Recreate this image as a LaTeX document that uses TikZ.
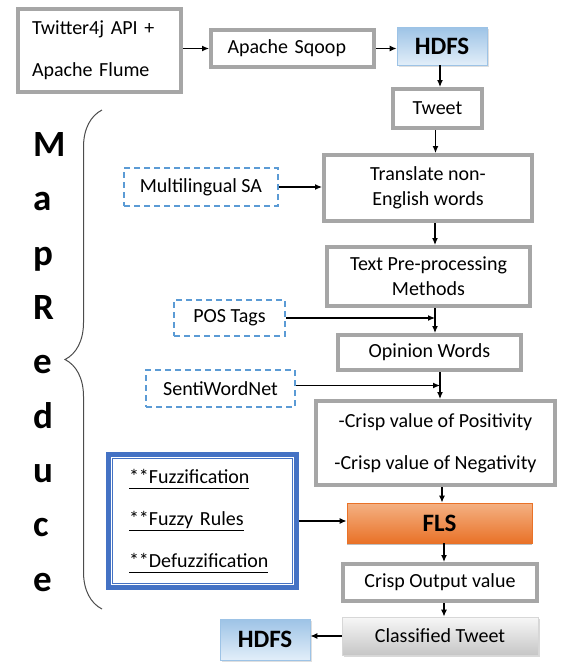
\documentclass[tikz,border=0pt]{standalone}
\usepackage{fontspec}
\setmainfont{Carlito}
\usetikzlibrary{arrows.meta,decorations.pathreplacing,shadows}
\definecolor{boxgray}{HTML}{A6A6A6}
\definecolor{dashblue}{HTML}{5B9BD5}
\definecolor{ruleblue}{HTML}{4472C4}
\definecolor{hdfstop}{HTML}{9DC3E6}
\definecolor{hdfsbot}{HTML}{E2EEF9}
\definecolor{flstop}{HTML}{F4B183}
\definecolor{flsbot}{HTML}{E97228}
\definecolor{clstop}{HTML}{F7F7F7}
\definecolor{clsbot}{HTML}{C6C6C6}
\newcommand{\uln}[1]{\underline{\vphantom{y}#1}}

\begin{document}
\begin{tikzpicture}[x=1pt, y=-1pt, >={Latex[length=7pt,width=6pt]},
  every node/.style={font=\fontsize{20}{25}\selectfont, inner sep=0pt},
  graybox/.style={draw=boxgray, line width=4pt, fill=white},
  dashbox/.style={draw=dashblue, line width=1.5pt, dash pattern=on 6pt off 4pt},
  hdfsbox/.style={draw=hdfstop, line width=0.8pt, top color=hdfstop, bottom color=hdfsbot,
    font=\fontsize{25}{30}\selectfont\bfseries,
    drop shadow={shadow xshift=1.5pt, shadow yshift=-1.5pt, opacity=0.25}},
  flow/.style={->, line width=1.2pt}]
  \useasboundingbox (0,0) rectangle (562,662);
  \node[graybox, minimum width=163pt, minimum height=83pt, text width=135pt, align=left] (tw) at (99.5,50.5) {Twitter4j API +\\[17pt]Apache Flume};
  \node[graybox, minimum width=163pt, minimum height=37pt, text width=130pt, align=left] (sqoop) at (292.5,48.5) {Apache Sqoop};
  \node[hdfsbox, minimum width=90pt, minimum height=38pt] (hdfs1) at (442,46) {HDFS};
  \node[graybox, minimum width=89pt, minimum height=39pt] (tweet) at (437.5,108.5) {Tweet};
  \node[graybox, minimum width=208pt, minimum height=66pt, align=center] (trans) at (428,188) {Translate non-\\English words};
  \node[dashbox, minimum width=154pt, minimum height=38pt] (multi) at (201,187) {Multilingual SA};
  \node[graybox, minimum width=203pt, minimum height=59pt, align=center] (prep) at (428.5,276.5) {Text Pre-processing\\Methods};
  \node[dashbox, minimum width=111pt, minimum height=36pt] (pos) at (229.5,318) {POS Tags};
  \node[graybox, minimum width=183pt, minimum height=35pt] (opin) at (429.5,352.5) {Opinion Words};
  \node[dashbox, minimum width=149pt, minimum height=37pt] (senti) at (220.5,388.5) {SentiWordNet};
  \node[graybox, minimum width=239pt, minimum height=84pt, align=center] (crisp) at (435.5,443) {-Crisp value of Positivity\\[17pt]-Crisp value of Negativity};
  \node[draw=ruleblue, line width=5pt, minimum width=188pt, minimum height=133pt, text width=147pt, align=left] (fuzzy) at (202.5,521) {\uln{**Fuzzification}\\[17pt]\uln{**Fuzzy Rules}\\[17pt]\uln{**Defuzzification}};
  \draw[ruleblue, line width=1.5pt] ([shift={(6.5,6.5)}]fuzzy.north west) rectangle ([shift={(-6.5,-6.5)}]fuzzy.south east);
  \node[draw=flsbot, line width=0.8pt, top color=flstop, bottom color=flsbot, minimum width=185pt, minimum height=40pt,
    font=\fontsize{25}{30}\selectfont\bfseries, drop shadow={shadow xshift=0pt, shadow yshift=-2pt, opacity=0.5}] (fls) at (439.5,523) {FLS};
  \node[graybox, minimum width=194pt, minimum height=37pt] (cout) at (440,582.5) {Crisp Output value};
  \node[draw=clsbot!70, line width=0.8pt, top color=clstop, bottom color=clsbot, minimum width=196pt, minimum height=38pt,
    drop shadow={shadow xshift=1.5pt, shadow yshift=-1.5pt, opacity=0.3}] (cls) at (440,636) {Classified Tweet};
  \node[hdfsbox, minimum width=90pt, minimum height=41pt] (hdfs2) at (265,639.5) {HDFS};
  \node[font=\fontsize{37}{54.4}\selectfont\bfseries, align=left, anchor=north west] (mr) at (33,132) {M\\a\\p\\R\\e\\d\\u\\c\\e};
  %\node (brace) at (84,360) {};
  \draw[decorate, decoration={brace, amplitude=37pt}, line width=1pt, black!70] (102,609) -- (102,110);

  \draw[flow] (tw.east |- sqoop.west) -- (sqoop.west);
  \draw[flow] (sqoop.east) -- (sqoop.east -| hdfs1.west);
  \draw[flow] ([xshift=-2pt]hdfs1.south) -- ([xshift=-2pt]hdfs1.south |- tweet.north);
  \draw[flow] ([xshift=-2pt]tweet.south) -- ([xshift=-2pt]tweet.south |- trans.north);
  \draw[flow] (multi.east) -- (multi.east -| trans.west);
  \draw[flow] ([xshift=7pt]trans.south) -- ([xshift=7pt]trans.south |- prep.north);
  \draw[flow] ([xshift=6.5pt]prep.south) coordinate (j1) -- (j1 |- opin.north);
  \draw[flow] (pos.east) -- (pos.east -| j1);
  \draw[flow] ([xshift=10.5pt]opin.south) coordinate (j2) -- (j2 |- crisp.north);
  \draw[flow] ([yshift=3pt]senti.east) -- ([yshift=3pt]senti.east -| j2);
  \draw[flow] ([xshift=6.5pt]crisp.south) -- ([xshift=6.5pt]crisp.south |- fls.north);
  \draw[flow] (fuzzy.east) -- (fuzzy.east -| fls.west);
  \draw[flow] ([xshift=4.5pt]fls.south) -- ([xshift=4.5pt]fls.south |- cout.north);
  \draw[flow] ([xshift=4pt]cout.south) -- ([xshift=4pt]cout.south |- cls.north);
  \draw[flow] (cls.west) -- (cls.west -| hdfs2.east);
\end{tikzpicture}
\end{document}
